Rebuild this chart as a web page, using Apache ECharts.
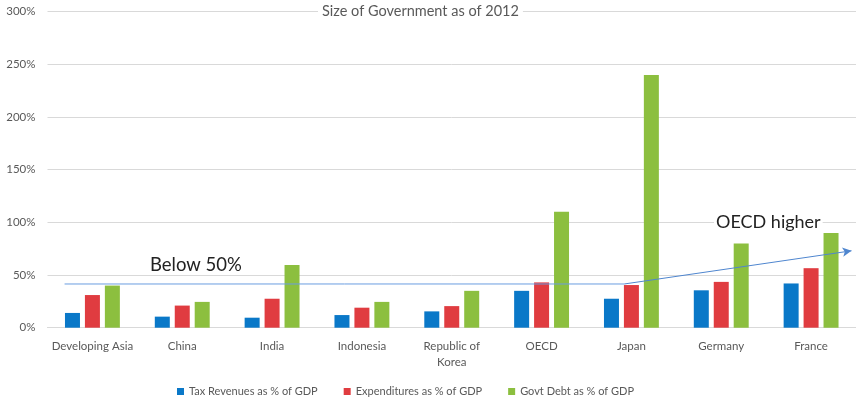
<!DOCTYPE html>
<html>
<head>
<meta charset="utf-8">
<script src="https://cdn.jsdelivr.net/npm/echarts@6/dist/echarts.min.js"></script>
<style>
  html, body { margin: 0; padding: 0; background: #fff; }
  #chart { width: 856px; height: 404px; }
</style>
</head>
<body>
<div id="chart"></div>
<script>
// data (% of GDP, 2012)
const categories = ["Developing Asia", "China", "India", "Indonesia", "Republic of Korea", "OECD", "Japan", "Germany", "France"];
const taxRevenue = [14, 10.5, 9.5, 12, 15.5, 35, 27.5, 35.5, 42];
const expenditure = [31, 21, 27.5, 19, 20.5, 43, 40.5, 43.5, 56.5];
const govtDebt = [40, 24.5, 59.5, 24.5, 35, 110, 240, 80, 90];
const seriesNames = ["Tax Revenues as % of GDP", "Expenditures as % of GDP", "Govt Debt as % of GDP"];

// annotation line: flat "below 50%" stretch then the arrow upward
const flatLine = [[0.19, 41.5], [6.42, 41.5]];
const arrowLine = [[6.42, 41.5], [8.95, 73]];

const grey = "#595959";
const font = "Lato";

const chart = echarts.init(document.getElementById("chart"));

const option = {
  animation: false,
  textStyle: { fontFamily: font },
  title: {
    text: "Size of Government as of 2012",
    left: 318,
    top: 2,
    backgroundColor: "#fff",
    padding: [2, 4],
    textStyle: { fontSize: 14.5, fontWeight: "normal", color: grey, fontFamily: font },
  },
  grid: {
    left: 47.5,
    top: 11.7,
    width: 810,
    height: 316,
    containLabel: false,
  },
  legend: {
    bottom: 2,
    left: 172,
    icon: "rect",
    itemWidth: 7,
    itemHeight: 7,
    itemGap: 26,
    data: seriesNames,
    textStyle: { fontSize: 11, color: grey, fontFamily: font },
  },
  xAxis: [
    {
      type: "category",
      data: categories,
      axisLine: { lineStyle: { color: "#d9d9d9" } },
      axisTick: { show: false },
      axisLabel: {
        interval: 0,
        color: grey,
        fontSize: 11.5,
        margin: 11,
        lineHeight: 16,
        formatter: (v) => v.replace("Republic of ", "Republic of\n"),
      },
    },
    {
      // hidden value axis for the annotation arrow
      type: "value",
      min: 0,
      max: 9,
      show: false,
    },
  ],
  yAxis: {
    type: "value",
    min: 0,
    max: 300,
    interval: 50,
    axisLine: { show: false },
    axisTick: { show: false },
    axisLabel: { formatter: "{value}%", color: grey, fontSize: 11.5, margin: 12 },
    splitLine: { lineStyle: { color: "#d9d9d9" } },
  },
  series: [
    {
      name: seriesNames[0],
      type: "bar",
      data: taxRevenue,
      barWidth: 15,
      barGap: "33%",
      itemStyle: { color: "#0a78c8" },
    },
    {
      name: seriesNames[1],
      type: "bar",
      data: expenditure,
      barWidth: 15,
      barGap: "33%",
      itemStyle: { color: "#e03c40" },
    },
    {
      name: seriesNames[2],
      type: "bar",
      data: govtDebt,
      barWidth: 15,
      barGap: "33%",
      itemStyle: { color: "#8cbf3f" },
    },
    {
      name: "trend",
      type: "line",
      xAxisIndex: 1,
      data: flatLine,
      showSymbol: false,
      lineStyle: { color: "#6a9de0", width: 1 },
      z: 5,
      markLine: {
        silent: true,
        symbol: ["none", "arrow"],
        symbolSize: [7, 9],
        label: { show: false },
        lineStyle: { color: "#4f86cf", width: 1, type: "solid" },
        data: [[{ coord: arrowLine[0] }, { coord: arrowLine[1] }]],
      },
    },
  ],
  graphic: [
    {
      type: "text",
      left: 150,
      top: 256,
      style: { text: "Below 50%", fontSize: 18.5, fill: "#222", fontFamily: font },
    },
    {
      type: "text",
      left: 714,
      top: 213,
      z: 10,
      style: {
        text: "OECD higher",
        fontSize: 18,
        fill: "#222",
        fontFamily: font,
        backgroundColor: "#fff",
        padding: [0, 2],
      },
    },
  ],
};

chart.setOption(option);
</script>
</body>
</html>
